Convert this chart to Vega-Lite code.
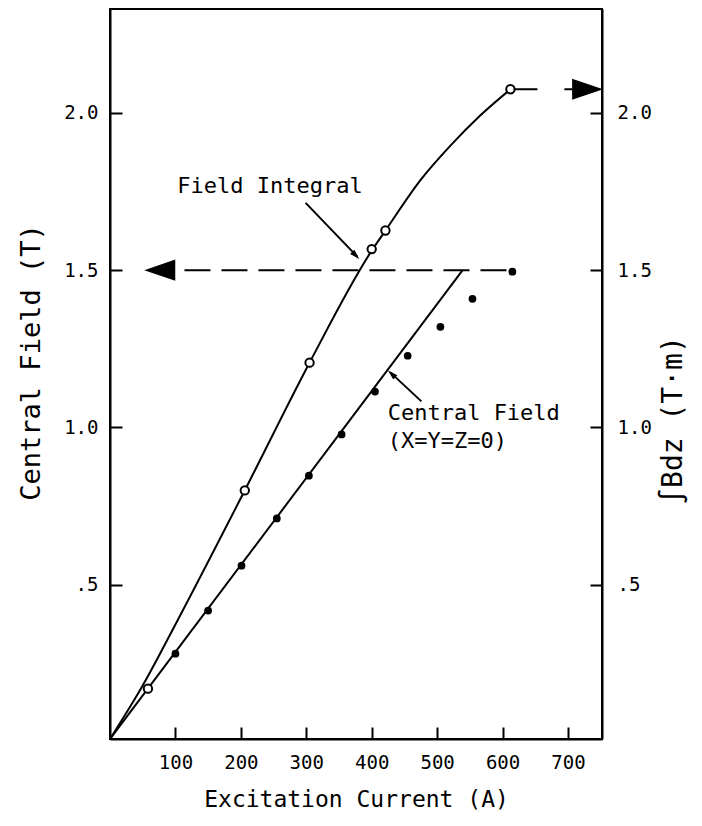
{
  "$schema": "https://vega.github.io/schema/vega-lite/v6.json",
  "width": 492,
  "height": 730,
  "autosize": {"type": "none"},
  "padding": {"left": 110, "top": 9, "right": 100, "bottom": 87},
  "background": "white",
  "config": {
    "view": {"stroke": "black", "strokeWidth": 2},
    "font": "DejaVu Sans Mono",
    "axis": {
      "grid": false,
      "domainColor": "black",
      "domainWidth": 2,
      "tickColor": "black",
      "tickWidth": 2,
      "tickSize": -12,
      "labelFont": "DejaVu Sans Mono",
      "labelFontSize": 19,
      "labelColor": "black",
      "titleFont": "DejaVu Sans Mono",
      "titleFontWeight": "normal",
      "titleColor": "black"
    }
  },
  "datasets": {
    "central_line": [{"I": 0, "B": 0.01}, {"I": 539, "B": 1.5}],
    "integral_line": [
      {"I": 0, "B": 0.01}, {"I": 50, "B": 0.18}, {"I": 104, "B": 0.39},
      {"I": 206, "B": 0.8}, {"I": 305, "B": 1.206}, {"I": 400, "B": 1.562},
      {"I": 421, "B": 1.626}, {"I": 476, "B": 1.79}, {"I": 520, "B": 1.895},
      {"I": 565, "B": 1.99}, {"I": 612, "B": 2.075}
    ],
    "central_pts": [
      {"I": 100, "B": 0.281}, {"I": 150, "B": 0.418}, {"I": 201, "B": 0.561},
      {"I": 255, "B": 0.711}, {"I": 304, "B": 0.847}, {"I": 354, "B": 0.978},
      {"I": 405, "B": 1.114}, {"I": 455, "B": 1.228}, {"I": 505, "B": 1.32},
      {"I": 554, "B": 1.409}, {"I": 615, "B": 1.495}
    ],
    "integral_pts": [
      {"I": 58, "B": 0.17}, {"I": 206, "B": 0.8}, {"I": 305, "B": 1.206},
      {"I": 400, "B": 1.567}, {"I": 421, "B": 1.626}, {"I": 612, "B": 2.075}
    ],
    "guide_left": [{"I": 606, "I2": 99, "B": 1.5}],
    "guide_right": [{"I": 612, "I2": 707, "B": 2.075}],
    "arrow_left": [{"I": 76, "B": 1.5}],
    "arrow_right": [{"I": 730, "B": 2.075}],
    "pointers": [
      {"I": 299, "B": 1.714, "I2": 378, "B2": 1.543},
      {"I": 476, "B": 1.083, "I2": 428, "B2": 1.176}
    ],
    "head_fi": [{"I": 375.6, "B": 1.547}],
    "head_cf": [{"I": 430.5, "B": 1.17}],
    "labels_right": [{"I": 386.3, "B": 1.767, "t": "Field Integral"}],
    "labels_left": [
      {"I": 424.4, "B": 1.047, "t": "Central Field"},
      {"I": 424.4, "B": 0.958, "t": "(X=Y=Z=0)"}
    ]
  },
  "layer": [
    {
      "data": {"name": "central_line"},
      "mark": {"type": "line", "color": "black", "strokeWidth": 2, "clip": true},
      "encoding": {
        "x": {
          "field": "I", "type": "quantitative",
          "scale": {"domain": [0, 752], "nice": false, "zero": false},
          "axis": {
            "values": [100, 200, 300, 400, 500, 600, 700],
            "labelPadding": 26,
            "title": "Excitation Current (A)",
            "titleFontSize": 23,
            "titleX": 246, "titleY": 60,
            "titleAlign": "center", "titleBaseline": "middle"
          }
        },
        "y": {
          "field": "B", "type": "quantitative",
          "scale": {"domain": [0.01, 2.33], "nice": false, "zero": false},
          "axis": {
            "orient": "left",
            "values": [0.5, 1, 1.5, 2],
            "labelExpr": "datum.value == 0.5 ? '.5' : format(datum.value, '.1f')",
            "labelPadding": 24,
            "title": "Central Field (T)",
            "titleFontSize": 27,
            "titleAngle": 270,
            "titleX": -79, "titleY": 353,
            "titleAlign": "center", "titleBaseline": "middle"
          }
        }
      }
    },
    {
      "data": {"name": "integral_line"},
      "mark": {"type": "line", "color": "black", "strokeWidth": 2, "interpolate": "monotone", "clip": true},
      "encoding": {
        "x": {"field": "I", "type": "quantitative"},
        "y": {"field": "B", "type": "quantitative", "axis": null}
      }
    },
    {
      "data": {"name": "guide_left"},
      "mark": {"type": "rule", "color": "black", "strokeWidth": 2, "strokeDash": [26, 11]},
      "encoding": {
        "x": {"field": "I", "type": "quantitative"},
        "x2": {"field": "I2"},
        "y": {"field": "B", "type": "quantitative", "axis": null}
      }
    },
    {
      "data": {"name": "guide_right"},
      "mark": {"type": "rule", "color": "black", "strokeWidth": 2, "strokeDash": [27, 27]},
      "encoding": {
        "x": {"field": "I", "type": "quantitative"},
        "x2": {"field": "I2"},
        "y": {"field": "B", "type": "quantitative", "axis": null}
      }
    },
    {
      "data": {"name": "arrow_left"},
      "mark": {"type": "point", "shape": "M-1,0L1,-0.68L1,0.68Z", "size": 961, "filled": true, "color": "black", "opacity": 1},
      "encoding": {
        "x": {"field": "I", "type": "quantitative"},
        "y": {"field": "B", "type": "quantitative", "axis": null}
      }
    },
    {
      "data": {"name": "arrow_right"},
      "mark": {"type": "point", "shape": "M1,0L-1,-0.68L-1,0.68Z", "size": 961, "filled": true, "color": "black", "opacity": 1, "clip": false},
      "encoding": {
        "x": {"field": "I", "type": "quantitative"},
        "y": {"field": "B", "type": "quantitative", "axis": null}
      }
    },
    {
      "data": {"name": "pointers"},
      "mark": {"type": "rule", "color": "black", "strokeWidth": 2},
      "encoding": {
        "x": {"field": "I", "type": "quantitative"},
        "y": {"field": "B", "type": "quantitative", "axis": null},
        "x2": {"field": "I2"},
        "y2": {"field": "B2"}
      }
    },
    {
      "data": {"name": "head_fi"},
      "mark": {"type": "point", "shape": "M1,0L-1,-0.6L-1,0.6Z", "size": 100, "angle": 45, "filled": true, "color": "black", "opacity": 1},
      "encoding": {
        "x": {"field": "I", "type": "quantitative"},
        "y": {"field": "B", "type": "quantitative", "axis": null}
      }
    },
    {
      "data": {"name": "head_cf"},
      "mark": {"type": "point", "shape": "M1,0L-1,-0.6L-1,0.6Z", "size": 100, "angle": 223, "filled": true, "color": "black", "opacity": 1},
      "encoding": {
        "x": {"field": "I", "type": "quantitative"},
        "y": {"field": "B", "type": "quantitative", "axis": null}
      }
    },
    {
      "data": {"name": "central_pts"},
      "mark": {"type": "circle", "size": 60, "color": "black", "opacity": 1},
      "encoding": {
        "x": {"field": "I", "type": "quantitative"},
        "y": {"field": "B", "type": "quantitative", "axis": null}
      }
    },
    {
      "data": {"name": "integral_pts"},
      "mark": {"type": "point", "shape": "circle", "size": 70, "filled": false, "fill": "white", "fillOpacity": 1, "stroke": "black", "strokeWidth": 2, "opacity": 1},
      "encoding": {
        "x": {"field": "I", "type": "quantitative"},
        "y": {"field": "B", "type": "quantitative", "axis": null}
      }
    },
    {
      "data": {"name": "labels_right"},
      "mark": {"type": "text", "align": "right", "baseline": "middle", "font": "DejaVu Sans Mono", "fontSize": 22, "color": "black"},
      "encoding": {
        "x": {"field": "I", "type": "quantitative"},
        "y": {"field": "B", "type": "quantitative", "axis": null},
        "text": {"field": "t"}
      }
    },
    {
      "data": {"name": "labels_left"},
      "mark": {"type": "text", "align": "left", "baseline": "middle", "font": "DejaVu Sans Mono", "fontSize": 22, "color": "black"},
      "encoding": {
        "x": {"field": "I", "type": "quantitative"},
        "y": {
          "field": "B", "type": "quantitative",
          "axis": {
            "orient": "right",
            "values": [0.5, 1, 1.5, 2],
            "labelExpr": "datum.value == 0.5 ? '.5' : format(datum.value, '.1f')",
            "labelPadding": 27,
            "title": "∫Bdz (T·m)",
            "titleFontSize": 28,
            "titleAngle": 270,
            "titleX": 71, "titleY": 411,
            "titleAlign": "center", "titleBaseline": "middle"
          }
        },
        "text": {"field": "t"}
      }
    }
  ],
  "resolve": {"axis": {"y": "independent"}}
}
